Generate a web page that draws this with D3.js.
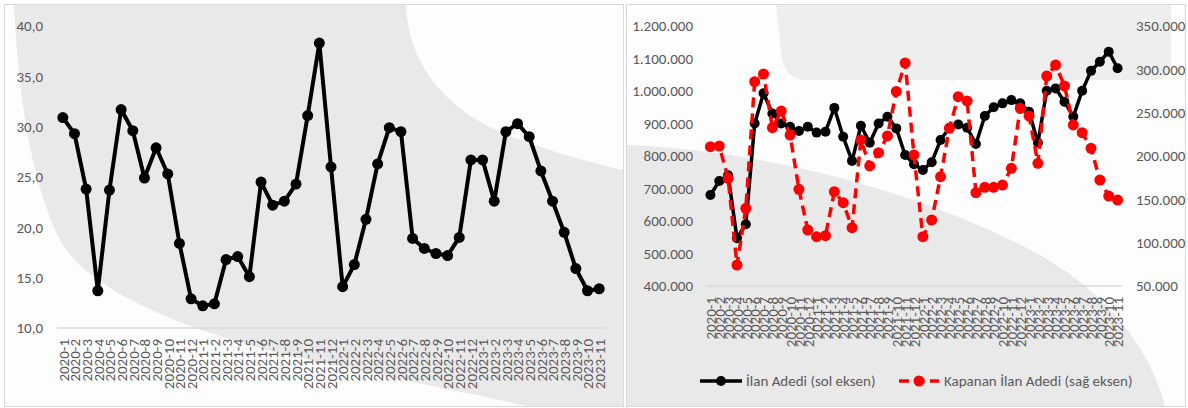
<!DOCTYPE html>
<html>
<head>
<meta charset="utf-8">
<script src="https://cdn.jsdelivr.net/npm/d3@7"></script>
<style>
html,body{margin:0;padding:0;background:#ffffff;}
svg{display:block;}
text{font-family:Carlito,"Liberation Sans Narrow",Lato,sans-serif;fill:#595959;}
</style>
</head>
<body>
<svg id="chart" width="1188" height="408"></svg>
<script>
const categories = ["2020-1","2020-2","2020-3","2020-4","2020-5","2020-6","2020-7","2020-8","2020-9","2020-10","2020-11","2020-12",
"2021-1","2021-2","2021-3","2021-4","2021-5","2021-6","2021-7","2021-8","2021-9","2021-10","2021-11","2021-12",
"2022-1","2022-2","2022-3","2022-4","2022-5","2022-6","2022-7","2022-8","2022-9","2022-10","2022-11","2022-12",
"2023-1","2023-2","2023-3","2023-4","2023-5","2023-6","2023-7","2023-8","2023-9","2023-10","2023-11"];

const leftValues = [30.9,29.3,23.8,13.7,23.7,31.7,29.6,24.9,27.9,25.3,18.4,12.9,
12.2,12.4,16.8,17.1,15.1,24.5,22.2,22.6,24.3,31.1,38.3,26.0,
14.1,16.3,20.8,26.3,29.9,29.5,18.9,17.9,17.4,17.2,19.0,26.7,
26.7,22.6,29.5,30.3,29.0,25.6,22.6,19.5,15.9,13.7,13.9];

const ilanAdedi = [680000,723000,741000,547000,590000,900000,993000,931000,900000,890000,877000,890000,
872000,875000,948000,859000,785000,893000,841000,900000,921000,885000,803000,775000,
757000,781000,849000,887000,897000,887000,837000,923000,950000,962000,972000,962000,
936000,841000,1001000,1008000,967000,921000,1001000,1062000,1090000,1121000,1070000];

const kapananIlan = [210800,211500,174300,74200,139600,285700,294600,232700,251900,224200,161600,114600,
106900,108100,158800,146100,117300,218500,188500,203800,223100,274500,307300,201200,
106900,126200,176100,232000,268400,263500,157700,163900,163900,166500,185800,255000,
246200,191600,292300,305000,280800,235800,226900,208900,172300,153800,149200];

const leftTicks = [10,15,20,25,30,35,40];
const rightLeftTicks = [400000,500000,600000,700000,800000,900000,1000000,1100000,1200000];
const rightRightTicks = [50000,100000,150000,200000,250000,300000,350000];
const legendLabels = ["İlan Adedi (sol eksen)","Kapanan İlan Adedi (sağ eksen)"];

const loc = d3.formatLocale({decimal:",",thousands:".",grouping:[3],currency:["",""]});
const fmt1 = loc.format(",.1f");
const fmtInt = loc.format(",d");

const svg = d3.select("#chart");
const GREY = "#eae9e9";
const WHITE = "#fdfdfd";
const FS = "15px";

// ---------- backgrounds ----------
svg.append("rect").attr("x",4.5).attr("y",4.5).attr("width",619).attr("height",402).attr("fill",GREY);
svg.append("path")
  .attr("d","M5,5 L14,5 C18,90 30,180 60,240 C90,295 200,335 300,358 C400,380 480,395 525,406 L5,406 Z")
  .attr("fill",WHITE);
svg.append("path")
  .attr("d","M406,5 C408,60 440,105 500,132 C550,152 590,162 623,170 L623,5 Z")
  .attr("fill",WHITE);
svg.append("rect").attr("x",4.5).attr("y",4.5).attr("width",619).attr("height",402)
  .attr("fill","none").attr("stroke","#d9d9d9").attr("stroke-width",1);

svg.append("rect").attr("x",626.5).attr("y",4.5).attr("width",559).attr("height",402).attr("fill",WHITE);
svg.append("path")
  .attr("d","M627,145 C760,150 920,190 1040,255 C1110,295 1150,350 1165,406 L627,406 Z")
  .attr("fill",GREY);
svg.append("path")
  .attr("d","M776,5 L1171,5 L1171,62 Q1171,80 1153,80 L805,80 Q788,80 782,60 Z")
  .attr("fill","#eeeeee");
svg.append("rect").attr("x",626.5).attr("y",4.5).attr("width",559).attr("height",402)
  .attr("fill","none").attr("stroke","#d9d9d9").attr("stroke-width",1);

// ---------- left chart ----------
const xL = d3.scalePoint().domain(categories).range([57,605]).padding(0.5);
const yL = d3.scaleLinear().domain([10,40]).range([328,26]);

svg.append("line").attr("x1",57).attr("x2",605).attr("y1",yL(10)).attr("y2",yL(10))
  .attr("stroke","#d9d9d9").attr("stroke-width",1.5);

const axL = svg.append("g").attr("transform","translate(43,0)")
  .call(d3.axisLeft(yL).tickValues(leftTicks).tickFormat(fmt1).tickSize(0).tickPadding(0));
axL.select(".domain").remove();
axL.selectAll("text").style("font-size",FS).attr("fill","#595959");

const xaxL = svg.append("g").attr("transform","translate(0,339)")
  .call(d3.axisBottom(xL).tickSize(0));
xaxL.select(".domain").remove();
xaxL.selectAll("text").style("font-size",FS).attr("fill","#595959")
  .attr("text-anchor","end").attr("dy","0.35em").attr("y",0).attr("x",0)
  .attr("transform","rotate(-90)");

svg.append("path").datum(leftValues)
  .attr("d", d3.line().x((d,i)=>xL(categories[i])).y(d=>yL(d)))
  .attr("fill","none").attr("stroke","#000").attr("stroke-width",4).attr("stroke-linejoin","round");
svg.append("g").selectAll("circle").data(leftValues).join("circle")
  .attr("cx",(d,i)=>xL(categories[i])).attr("cy",d=>yL(d)).attr("r",5.5).attr("fill","#000");

// ---------- right chart ----------
const xR = d3.scalePoint().domain(categories).range([706,1122]).padding(0.5);
const yR1 = d3.scaleLinear().domain([400000,1200000]).range([286,26]);
const yR2 = d3.scaleLinear().domain([50000,350000]).range([286,26]);

svg.append("line").attr("x1",706).attr("x2",1122).attr("y1",286).attr("y2",286)
  .attr("stroke","#d9d9d9").attr("stroke-width",1.5);

const axR1 = svg.append("g").attr("transform","translate(693,0)")
  .call(d3.axisLeft(yR1).tickValues(rightLeftTicks).tickFormat(fmtInt).tickSize(0).tickPadding(0));
axR1.select(".domain").remove();
axR1.selectAll("text").style("font-size",FS).attr("fill","#595959");

const axR2 = svg.append("g").attr("transform","translate(1136,0)")
  .call(d3.axisRight(yR2).tickValues(rightRightTicks).tickFormat(fmtInt).tickSize(0).tickPadding(0));
axR2.select(".domain").remove();
axR2.selectAll("text").style("font-size",FS).attr("fill","#595959");

const xaxR = svg.append("g").attr("transform","translate(0,297)")
  .call(d3.axisBottom(xR).tickSize(0));
xaxR.select(".domain").remove();
xaxR.selectAll("text").style("font-size",FS).attr("fill","#595959")
  .attr("text-anchor","end").attr("dy","0.35em").attr("y",0).attr("x",0)
  .attr("transform","rotate(-90)");

svg.append("path").datum(ilanAdedi)
  .attr("d", d3.line().x((d,i)=>xR(categories[i])).y(d=>yR1(d)))
  .attr("fill","none").attr("stroke","#000").attr("stroke-width",3.5).attr("stroke-linejoin","round");
svg.append("g").selectAll("circle").data(ilanAdedi).join("circle")
  .attr("cx",(d,i)=>xR(categories[i])).attr("cy",d=>yR1(d)).attr("r",5).attr("fill","#000");

svg.append("path").datum(kapananIlan)
  .attr("d", d3.line().x((d,i)=>xR(categories[i])).y(d=>yR2(d)))
  .attr("fill","none").attr("stroke","#ff0000").attr("stroke-width",3.5)
  .attr("stroke-dasharray","10,6").attr("stroke-linejoin","round");
svg.append("g").selectAll("circle").data(kapananIlan).join("circle")
  .attr("cx",(d,i)=>xR(categories[i])).attr("cy",d=>yR2(d)).attr("r",5.5).attr("fill","#ff0000");

// ---------- legend ----------
const lg = svg.append("g");
lg.append("line").attr("x1",700).attr("x2",742).attr("y1",381).attr("y2",381)
  .attr("stroke","#000").attr("stroke-width",3.5);
lg.append("circle").attr("cx",721).attr("cy",381).attr("r",5).attr("fill","#000");
lg.append("text").attr("x",746).attr("y",381).attr("dy","0.35em").style("font-size",FS).text(legendLabels[0]);
lg.append("line").attr("x1",899).attr("x2",939).attr("y1",381).attr("y2",381)
  .attr("stroke","#ff0000").attr("stroke-width",3.5).attr("stroke-dasharray","10,5.5");
lg.append("circle").attr("cx",919).attr("cy",381).attr("r",5.5).attr("fill","#ff0000");
lg.append("text").attr("x",944).attr("y",381).attr("dy","0.35em").style("font-size",FS).text(legendLabels[1]);
</script>
</body>
</html>
